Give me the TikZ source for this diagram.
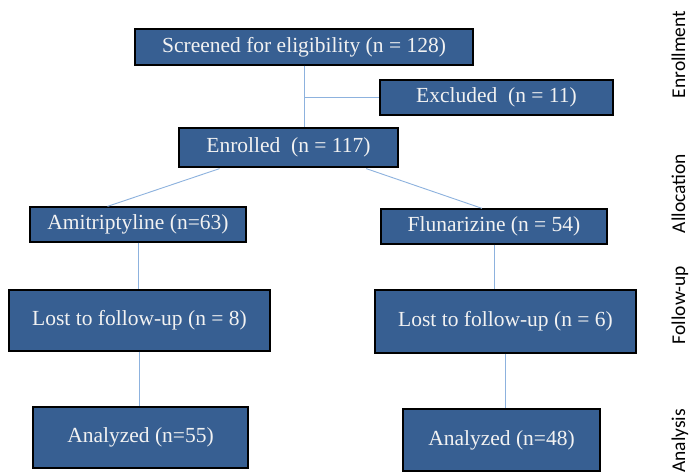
\documentclass[tikz,border=0pt]{standalone}
\usepackage{fontspec}
\setmainfont{Liberation Serif}
\newfontfamily\sidefont{Carlito}
\usetikzlibrary{calc}
\definecolor{boxblue}{RGB}{55,95,146}
\definecolor{linkblue}{RGB}{141,178,222}
\definecolor{boxtext}{RGB}{242,242,242}
\tikzset{
  box/.style={draw=black, line width=1.3pt, fill=boxblue, text=boxtext, inner sep=0pt,
    font=\fontsize{21.5}{24}\selectfont},
  link/.style={draw=linkblue, line width=0.9pt},
  side/.style={rotate=90, anchor=base, font=\sidefont\fontsize{19.5}{22}\selectfont, text=black, inner sep=0pt}
}
\begin{document}
\begin{tikzpicture}[x=1pt, y=-1pt]
\path[use as bounding box, fill=white] (0,0) rectangle (690,473);
\clip (0,0) rectangle (690,473);

\node[box, minimum width=338pt, minimum height=36pt] (scr) at (304,47) {Screened for eligibility (n = 128)};
\node[box, minimum width=233pt, minimum height=35pt] (exc) at (496.5,97.5) {Excluded\ \ (n = 11)};
\node[box, minimum width=219pt, minimum height=39pt] (enr) at (288.5,147.5) {Enrolled\ \ (n = 117)};
\node[box, minimum width=216pt, minimum height=35pt] (amit) at (138,224.5) {Amitriptyline (n=63)};
\node[box, minimum width=226pt, minimum height=35pt] (flun) at (494,226.5) {Flunarizine (n = 54)};
\node[box, minimum width=261pt, minimum height=61pt] (lostL) at (139.5,320.5) {Lost to follow-up (n = 8)};
\node[box, minimum width=261pt, minimum height=63pt] (lostR) at (505.5,321.5) {Lost to follow-up (n = 6)};
\node[box, minimum width=215pt, minimum height=61pt] (anaL) at (140.5,437.5) {Analyzed (n=55)};
\node[box, minimum width=197pt, minimum height=62pt] (anaR) at (501.5,440) {Analyzed (n=48)};

\node[side] (s1) at (685,54.5) {Enrollment};
\node[side] (s2) at (685,193.5) {Allocation};
\node[side] (s3) at (685,305) {Follow-up};
\node[side] (s4) at (685,441) {Analysis};

% connectors
\coordinate (j1) at (scr.south |- exc.west);
\draw[link] (scr.south) -- (scr.south |- enr.north);
\draw[link] (j1) -- (exc.west);
\draw[link, shorten <=3pt] ($(enr.south west)!0.2!(enr.south east)$) -- ($(amit.north west)!0.36!(amit.north east)$);
\draw[link, shorten <=3pt] ($(enr.south west)!0.84!(enr.south east)$) -- ($(flun.north west)!0.447!(flun.north east)$);
\draw[link] (amit.south) -- (amit.south |- lostL.north);
\draw[link] (lostL.south) -- (lostL.south |- anaL.north);
\draw[link] (flun.south) -- (flun.south |- lostR.north);
\draw[link] (lostR.south) -- (lostR.south |- anaR.north);
\end{tikzpicture}
\end{document}
